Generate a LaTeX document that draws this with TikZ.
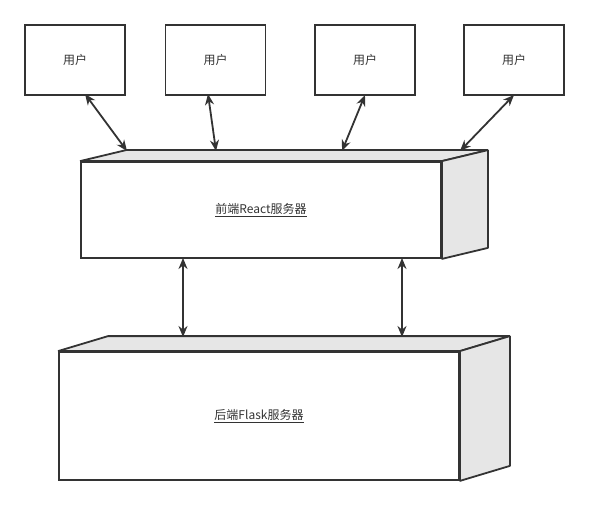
\documentclass[tikz,border=0pt]{standalone}
\usepackage{fontspec}
\setmainfont{Noto Sans CJK SC}
\usetikzlibrary{arrows.meta,calc}
\definecolor{ln}{HTML}{333333}
\definecolor{sidefill}{HTML}{E6E6E6}
\tikzset{
  user/.style={draw=ln,line width=1.8pt,fill=white,minimum width=100pt,minimum height=70pt,inner sep=0pt,text=ln,font=\fontsize{12}{14}\selectfont},
  face/.style={draw=ln,line width=1.8pt,fill=white,inner sep=0pt,text=ln,font=\fontsize{12}{14}\selectfont},
  side/.style={draw=ln,line width=1.8pt,fill=sidefill,line join=bevel},
  arr/.style={draw=ln,line width=1.8pt,{Stealth[length=11pt,width=9pt]}-{Stealth[length=11pt,width=9pt]}},
}
\begin{document}
\begin{tikzpicture}[x=1pt,y=-1pt]
\useasboundingbox (0,0) rectangle (589,505);
% users
\node[user] (u1) at (75,60) {\raisebox{-1pt}{用户}};
\node[user] (u2) at (215.5,60) {\raisebox{-1pt}{用户}};
\node[user] (u3) at (365,60) {\raisebox{-1pt}{用户}};
\node[user] (u4) at (514,60) {\raisebox{-1pt}{用户}};
% front cube
\node[face,minimum width=360pt,minimum height=96pt] (fe) at (261,210) {\raisebox{-2pt}{\underline{前端React服务器}}};
\draw[side] (fe.north west) -- ++(46,-11) -- ($(fe.north east)+(46,-11)$) -- (fe.north east) -- cycle;
\draw[side] (fe.north east) -- ++(46,-11) -- ($(fe.south east)+(46,-11)$) -- (fe.south east) -- cycle;
% back cube
\node[face,minimum width=400pt,minimum height=128pt] (be) at (259,416) {\raisebox{-1pt}{\underline{后端Flask服务器}}};
\draw[side] (be.north west) -- ++(50,-15) -- ($(be.north east)+(50,-15)$) -- (be.north east) -- cycle;
\draw[side] (be.north east) -- ++(50,-15) -- ($(be.south east)+(50,-15)$) -- (be.south east) -- cycle;
% connector end points
\coordinate (a1) at (85,94);
\coordinate (b1) at (127,151);
\coordinate (a2) at (208,94);
\coordinate (b2) at (216,151);
\coordinate (a3) at (365,95);
\coordinate (b3) at (342,151);
\coordinate (a4) at (514,95);
\coordinate (b4) at (460,151);
\draw[arr] (a1) -- (b1);
\draw[arr] (a2) -- (b2);
\draw[arr] (a3) -- (b3);
\draw[arr] (a4) -- (b4);
\coordinate (c1) at (183,258);
\coordinate (d1) at (183,337);
\coordinate (c2) at (402,258);
\coordinate (d2) at (402,337);
\draw[arr] (c1) -- (d1);
\draw[arr] (c2) -- (d2);
\end{tikzpicture}
\end{document}
